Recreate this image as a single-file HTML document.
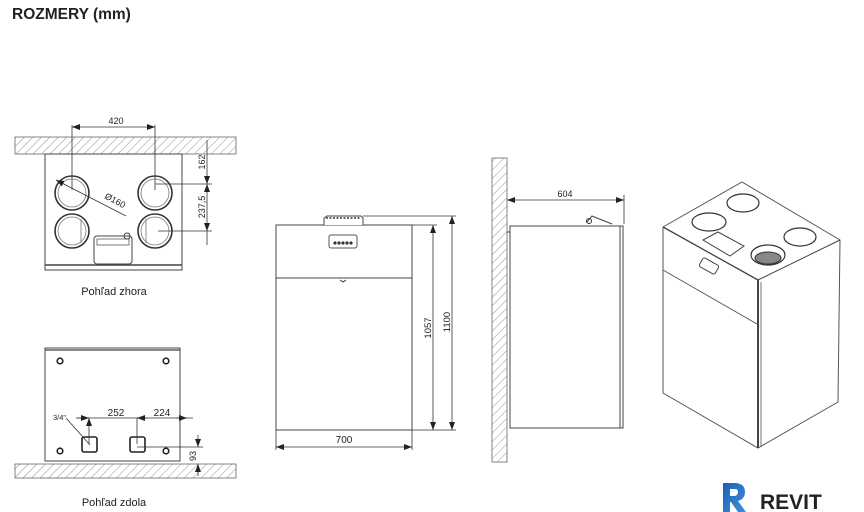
<!DOCTYPE html>
<html><head><meta charset="utf-8"><style>
body{margin:0;background:#fff;width:864px;height:512px;overflow:hidden}
svg{display:block}
text{font-family:"Liberation Sans",sans-serif;fill:#222}
</style></head><body>
<svg width="864" height="512" viewBox="0 0 864 512" xmlns="http://www.w3.org/2000/svg">
<defs>
<pattern id="h" width="6" height="6" patternUnits="userSpaceOnUse" patternTransform="rotate(45)">
<rect width="6" height="6" fill="#fff"/><line x1="0" y1="0" x2="0" y2="6" stroke="#777" stroke-width="0.8"/></pattern>
<marker id="a" markerWidth="8" markerHeight="6" refX="8" refY="3" orient="auto-start-reverse" markerUnits="userSpaceOnUse"><path d="M0,0 L8,3 L0,6z" fill="#222"/></marker>
<linearGradient id="rg" x1="0" y1="0" x2="1" y2="1"><stop offset="0" stop-color="#1f5fb8"/><stop offset="1" stop-color="#3b8fd8"/></linearGradient>
</defs>
<text x="12" y="19" font-size="15.5" font-weight="bold" fill="#111">ROZMERY (mm)</text>

<!-- TOP VIEW -->
<rect x="15" y="137" width="221" height="17" fill="url(#h)" stroke="#666" stroke-width="0.8"/>
<rect x="45" y="154" width="137" height="116" fill="#fff" stroke="#444" stroke-width="1"/>
<line x1="45" y1="265" x2="182" y2="265" stroke="#444" stroke-width="1.5"/>
<g fill="none" stroke="#333" stroke-width="1.6">
<circle cx="72" cy="193" r="17"/><circle cx="155" cy="193" r="17"/>
<circle cx="72" cy="231" r="17"/><circle cx="155" cy="231" r="17"/>
</g>
<g fill="none" stroke="#777" stroke-width="0.8">
<circle cx="72" cy="193" r="14"/><circle cx="155" cy="193" r="14"/>
<circle cx="72" cy="231" r="14"/><circle cx="155" cy="231" r="14"/>
<line x1="81" y1="219" x2="81" y2="243"/><line x1="146" y1="219" x2="146" y2="243"/>
</g>
<rect x="94" y="236" width="38" height="28" rx="3" fill="#fff" stroke="#444"/>
<rect x="97" y="239" width="32" height="6" fill="none" stroke="#444" stroke-width="0.7"/>
<circle cx="127" cy="236" r="3" fill="none" stroke="#444"/>
<g stroke="#333" stroke-width="0.8" fill="none">
<line x1="72" y1="125" x2="72" y2="190"/><line x1="155" y1="125" x2="155" y2="190"/>
<line x1="72" y1="127" x2="155" y2="127" marker-start="url(#a)" marker-end="url(#a)"/>
<line x1="155" y1="184" x2="212" y2="184"/><line x1="158" y1="231" x2="212" y2="231"/>
<line x1="207" y1="140" x2="207" y2="184" marker-end="url(#a)"/>
<line x1="207" y1="184" x2="207" y2="231" marker-start="url(#a)" marker-end="url(#a)"/>
<line x1="207" y1="231" x2="207" y2="245"/>
<line x1="56" y1="180" x2="126" y2="216" marker-start="url(#a)"/>
</g>
<text x="116" y="124" font-size="9" text-anchor="middle">420</text>
<text transform="translate(205,162) rotate(-90)" font-size="9" text-anchor="middle">162</text>
<text transform="translate(205,207) rotate(-90)" font-size="9" text-anchor="middle">237,5</text>
<text transform="translate(104,198) rotate(28)" font-size="9">Ø160</text>
<text x="114" y="295" font-size="11" text-anchor="middle">Pohľad zhora</text>

<!-- BOTTOM VIEW -->
<rect x="45" y="348" width="135" height="113" fill="#fff" stroke="#444"/>
<line x1="45" y1="350" x2="180" y2="350" stroke="#444" stroke-width="1.2"/>
<rect x="15" y="464" width="221" height="14" fill="url(#h)" stroke="#666" stroke-width="0.8"/>
<g fill="none" stroke="#222" stroke-width="1.6">
<circle cx="60" cy="361" r="2.8"/><circle cx="166" cy="361" r="2.8"/>
<circle cx="60" cy="451" r="2.8"/><circle cx="166" cy="451" r="2.8"/>
<rect x="82" y="437" width="15" height="15" rx="2"/><rect x="130" y="437" width="15" height="15" rx="2"/>
</g>
<g stroke="#333" stroke-width="0.8" fill="none">
<line x1="76" y1="418" x2="193" y2="418"/>
<line x1="89" y1="418" x2="89" y2="444" marker-start="url(#a)"/>
<line x1="137" y1="418" x2="137" y2="444"/>
<line x1="77" y1="418" x2="89" y2="418" marker-end="url(#a)"/>
<line x1="148" y1="418" x2="137" y2="418" marker-end="url(#a)"/>
<line x1="176" y1="418" x2="187" y2="418" marker-end="url(#a)"/>
<line x1="66" y1="418" x2="90" y2="445"/>
<line x1="137" y1="447" x2="203" y2="447"/>
<line x1="198" y1="435" x2="198" y2="447" marker-end="url(#a)"/>
<line x1="198" y1="476" x2="198" y2="464" marker-end="url(#a)"/>
</g>
<text x="116" y="416" font-size="10" text-anchor="middle">252</text>
<text x="162" y="416" font-size="10" text-anchor="middle">224</text>
<text x="53" y="420" font-size="7.5">3/4"</text>
<text transform="translate(196,456) rotate(-90)" font-size="9" text-anchor="middle">93</text>
<text x="114" y="506" font-size="11" text-anchor="middle">Pohľad zdola</text>

<!-- FRONT VIEW -->
<rect x="276" y="225" width="136" height="205" fill="#fff" stroke="#444"/>
<line x1="276" y1="278" x2="412" y2="278" stroke="#444"/>
<path d="M340,280 l3,2 l3,-2" stroke="#333" fill="none"/>
<path d="M324,225 L324,218 L327,216 L361,216 L363,218 L363,225" fill="#fff" stroke="#444"/>
<line x1="326" y1="218" x2="361" y2="218" stroke="#333" stroke-width="1.5" stroke-dasharray="2,1.5"/>
<rect x="329" y="235" width="28" height="13" rx="2" fill="#fff" stroke="#555"/>
<g fill="#333"><circle cx="335" cy="243" r="1.6"/><circle cx="339" cy="243" r="1.6"/><circle cx="343" cy="243" r="1.6"/><circle cx="347" cy="243" r="1.6"/><circle cx="351" cy="243" r="1.6"/></g>
<g stroke="#333" stroke-width="0.8" fill="none">
<line x1="412" y1="225" x2="437" y2="225"/><line x1="363" y1="216" x2="456" y2="216"/>
<line x1="412" y1="430" x2="456" y2="430"/>
<line x1="433" y1="225" x2="433" y2="430" marker-start="url(#a)" marker-end="url(#a)"/>
<line x1="452" y1="216" x2="452" y2="430" marker-start="url(#a)" marker-end="url(#a)"/>
<line x1="276" y1="430" x2="276" y2="450"/><line x1="412" y1="430" x2="412" y2="450"/>
<line x1="276" y1="447" x2="412" y2="447" marker-start="url(#a)" marker-end="url(#a)"/>
</g>
<text transform="translate(431,328) rotate(-90)" font-size="9.5" text-anchor="middle">1057</text>
<text transform="translate(450,322) rotate(-90)" font-size="9.5" text-anchor="middle">1100</text>
<text x="344" y="443" font-size="10" text-anchor="middle">700</text>

<!-- SIDE VIEW -->
<rect x="492" y="158" width="15" height="304" fill="url(#h)" stroke="#666" stroke-width="0.8"/>
<rect x="510" y="226" width="113" height="202" fill="#fff" stroke="#444"/>
<line x1="620" y1="226" x2="620" y2="428" stroke="#444"/>
<line x1="507" y1="232" x2="510" y2="232" stroke="#444"/>
<path d="M587,222 L592,216 L612,224" stroke="#444" fill="none"/>
<circle cx="589" cy="221" r="2.5" fill="none" stroke="#333"/>
<g stroke="#333" stroke-width="0.8" fill="none">
<line x1="624" y1="195" x2="624" y2="224"/>
<line x1="507" y1="200" x2="624" y2="200" marker-start="url(#a)" marker-end="url(#a)"/>
</g>
<text x="565" y="197" font-size="9" text-anchor="middle">604</text>

<!-- ISO -->
<path d="M663,227 L742,182 L840,240 L838,402 L758,448 L663,393 Z" fill="#fff" stroke="#555"/>
<line x1="663" y1="227" x2="758" y2="280" stroke="#444" stroke-width="1.3"/>
<line x1="758" y1="280" x2="840" y2="240" stroke="#444"/>
<line x1="758" y1="280" x2="758" y2="448" stroke="#444" stroke-width="2"/>
<line x1="761" y1="282" x2="761" y2="446" stroke="#777"/>
<line x1="663" y1="270" x2="757" y2="324" stroke="#555"/>
<g fill="#fff" stroke="#333" stroke-width="1.2">
<ellipse cx="709" cy="222" rx="17" ry="9"/><ellipse cx="743" cy="203" rx="16" ry="9"/>
<ellipse cx="800" cy="237" rx="16" ry="9"/>
</g>
<ellipse cx="768" cy="255" rx="17" ry="10" fill="#fff" stroke="#333" stroke-width="1.2"/>
<ellipse cx="768" cy="258" rx="13" ry="6" fill="#888" stroke="#333"/>
<path d="M703,240 L718,232 L744,246 L730,256 Z" fill="#fff" stroke="#444"/>
<rect x="700" y="261" width="18" height="10" rx="2" transform="rotate(29 709 266)" fill="#fff" stroke="#444"/>

<!-- REVIT -->
<path d="M723,483 L736,483 Q745,484 745,492 Q745,499 738,501 L746,512 L738,512 L731,502 L730,502 L730,512 L723,512 Z M730,489 L730,496 L735,496 Q738,495 738,492 Q738,489 735,489 Z" fill="url(#rg)" fill-rule="evenodd"/>
<text x="760" y="509" font-size="21" font-weight="bold" fill="#111">REVIT</text>
</svg>
</body></html>
